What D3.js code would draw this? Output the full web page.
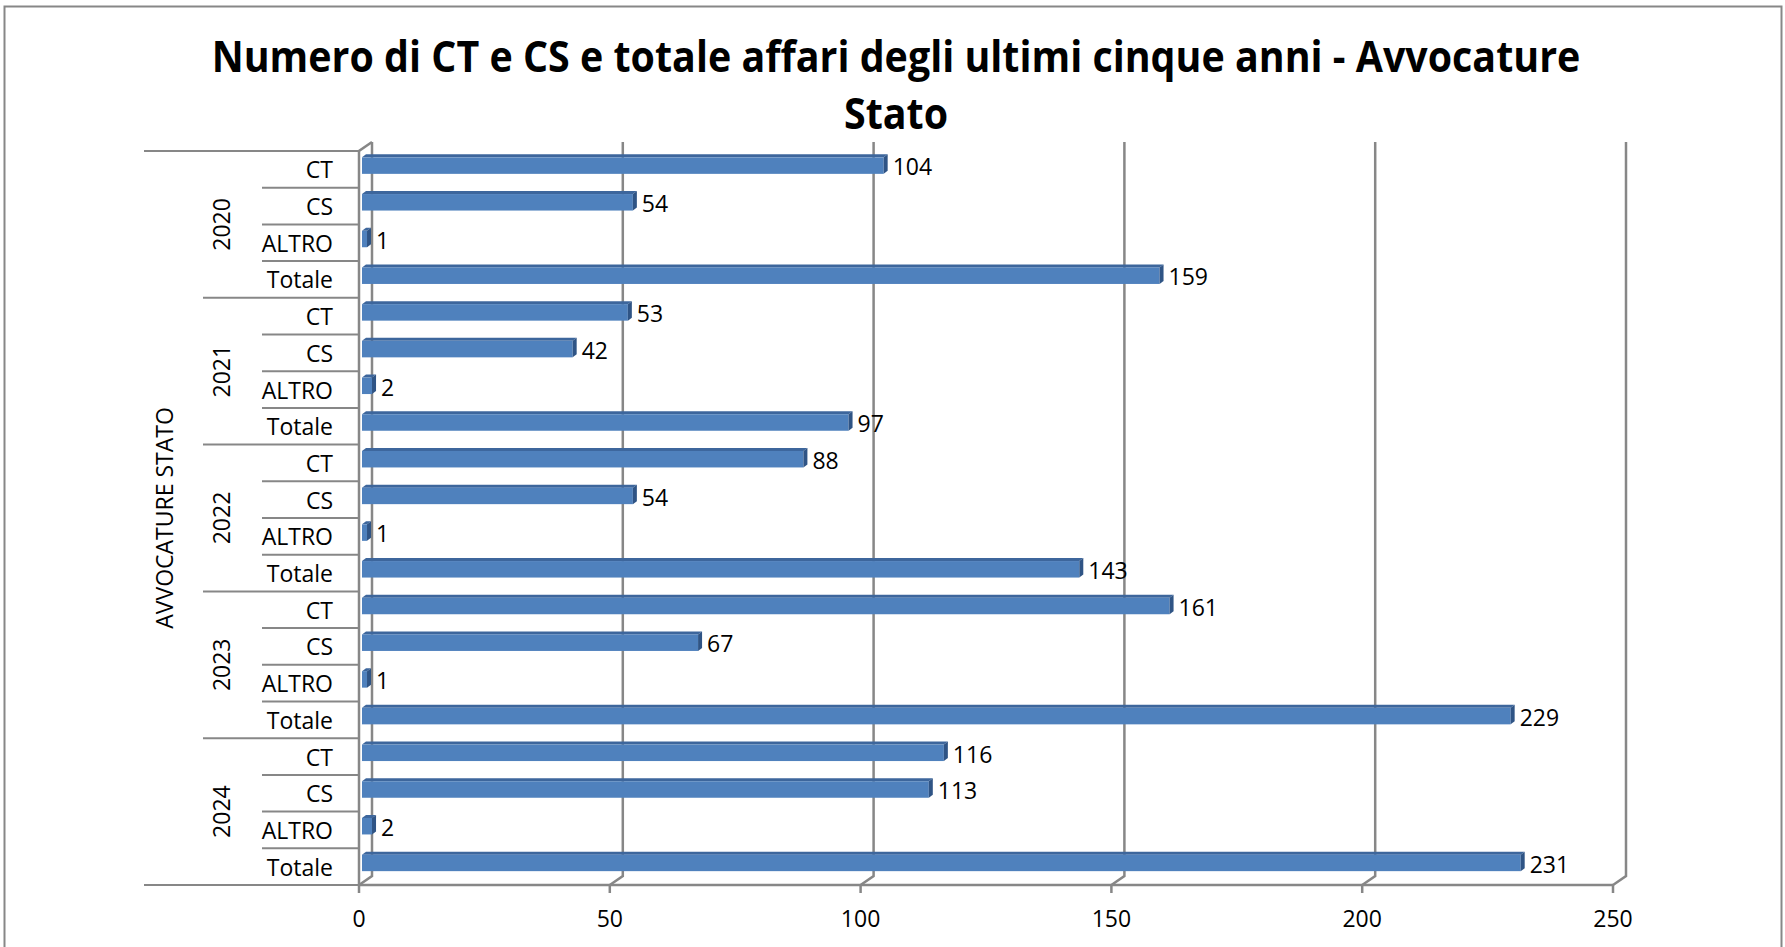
<!DOCTYPE html>
<html>
<head>
<meta charset="utf-8">
<script src="https://cdn.jsdelivr.net/npm/d3@7"></script>
<style>
  body { margin: 0; background: #fff; }
  text { font-family: "Open Sans", sans-serif; fill: #000; }
</style>
</head>
<body>
<div id="chart"></div>
<script>
var width = 1785,
    height = 947;

// data
var years = ["2020", "2021", "2022", "2023", "2024"];
var types = ["CT", "CS", "ALTRO", "Totale"];
var v2020 = [104, 54, 1, 159];
var v2021 = [53, 42, 2, 97];
var v2022 = [88, 54, 1, 143];
var v2023 = [161, 67, 1, 229];
var v2024 = [116, 113, 2, 231];
var xTicks = [0, 50, 100, 150, 200, 250];
var titleLines = ["Numero di CT e CS e totale affari degli ultimi cinque anni - Avvocature", "Stato"];
var axisTitle = "AVVOCATURE STATO";

var allValues = [v2020, v2021, v2022, v2023, v2024];
var rows = [];
years.forEach(function(y, i) {
    types.forEach(function(t, j) {
        rows.push({ year: y, type: t, value: allValues[i][j], key: y + "-" + t });
    });
});

var grey = "#878787";
var depthX = 13, depthY = -9;   // 3d offset of back wall

var svg = d3.select("#chart").append("svg")
    .attr("width", width)
    .attr("height", height)
    .style("display", "block");

// chart border
svg.append("rect")
    .attr("x", 4.5).attr("y", 6.5)
    .attr("width", 1777).attr("height", 980)
    .attr("fill", "none")
    .attr("stroke", grey)
    .attr("stroke-width", 2);

var x = d3.scaleLinear().domain([0, 250]).range([359, 1613]);
var y = d3.scaleBand().domain(rows.map(function(d) { return d.key; })).range([151, 885]);

var yTop = y.range()[0], yBottom = y.range()[1];

// title (two lines), stretched to the width of the original
var title = svg.append("g");
var k = 1;
titleLines.forEach(function(line, i) {
    var t = title.append("text")
        .attr("x", 0)
        .attr("y", 72 + i * 57)
        .attr("text-anchor", "middle")
        .style("font-weight", "bold")
        .style("font-size", "43px")
        .text(line);
    if (i == 0) k = 1369 / t.node().getComputedTextLength();
});
title.attr("transform", "translate(896,0) scale(" + k + ",1)");

// back wall + gridlines
var grid = svg.append("g")
    .attr("fill", "none")
    .attr("stroke", grey)
    .attr("stroke-width", 2.5);

xTicks.forEach(function(t) {
    var fx = x(t), bx = x(t) + depthX;
    var pts = [[bx, yTop + depthY], [bx, yBottom + depthY], [fx, yBottom]];
    grid.append("path").attr("d", d3.line()(pts));
    // tick below floor
    grid.append("line")
        .attr("x1", fx).attr("x2", fx)
        .attr("y1", yBottom).attr("y2", yBottom + 8);
});

// floor front edge
grid.append("line")
    .attr("x1", x(0)).attr("x2", x(250))
    .attr("y1", yBottom).attr("y2", yBottom);
// front vertical axis + top diagonal
grid.append("path")
    .attr("d", d3.line()([[x(0), yBottom], [x(0), yTop], [x(0) + depthX, yTop + depthY]]));

// category separators on left
var sep = svg.append("g")
    .attr("stroke", grey)
    .attr("stroke-width", 2);

rows.forEach(function(d, i) {
    var yy = y(d.key);
    var x0 = 262;
    if (i % 4 == 0) x0 = 203;
    if (i == 0) x0 = 144;
    sep.append("line")
        .attr("x1", x0).attr("x2", x(0) - 1)
        .attr("y1", yy).attr("y2", yy);
});
sep.append("line")
    .attr("x1", 144).attr("x2", x(0) - 1)
    .attr("y1", yBottom).attr("y2", yBottom);

// category labels
svg.selectAll(".cat")
    .data(rows)
    .enter().append("text")
    .attr("class", "cat")
    .attr("x", 333)
    .attr("y", function(d) { return y(d.key) + y.bandwidth() / 2 + 9; })
    .attr("text-anchor", "end")
    .style("font-size", "23px")
    .text(function(d) { return d.type; });

// year labels (rotated)
svg.selectAll(".year")
    .data(years)
    .enter().append("text")
    .attr("class", "year")
    .attr("transform", function(d) {
        var cy = y(d + "-CT") + y.bandwidth() * 2;
        return "translate(230," + cy + ") rotate(-90)";
    })
    .attr("text-anchor", "middle")
    .style("font-size", "23px")
    .text(function(d) { return d; });

// axis title
svg.append("text")
    .attr("transform", "translate(173," + ((yTop + yBottom) / 2) + ") rotate(-90)")
    .attr("text-anchor", "middle")
    .style("font-size", "23px")
    .text(axisTitle);

// bars: front, top, side faces
var bx0 = 3;
var bars = svg.selectAll(".bar")
    .data(rows)
    .enter().append("g")
    .attr("class", "bar");

function face(d) {
    var c = y(d.key) + y.bandwidth() / 2;
    return { x0: x(0) + bx0, x1: x(d.value) + bx0, y0: c - 12, y1: c + 4.5 };
}

bars.append("path")
    .attr("fill", "#3d669c")
    .attr("d", function(d) {
        var f = face(d);
        return d3.line()([[f.x0, f.y0], [f.x1, f.y0], [f.x1 + 4, f.y0 - 3], [f.x0 + 4, f.y0 - 3]]) + "Z";
    });
bars.append("rect")
    .attr("fill", "#4f81bd")
    .attr("x", function(d) { return face(d).x0; })
    .attr("y", function(d) { return face(d).y0; })
    .attr("width", function(d) { var f = face(d); return f.x1 - f.x0; })
    .attr("height", function(d) { var f = face(d); return f.y1 - f.y0; });
bars.append("path")
    .attr("fill", "#2f5485")
    .attr("d", function(d) {
        var f = face(d);
        return d3.line()([[f.x1, f.y0], [f.x1 + 4, f.y0 - 3], [f.x1 + 4, f.y1 - 3], [f.x1, f.y1]]) + "Z";
    });

// value labels
svg.selectAll(".val")
    .data(rows)
    .enter().append("text")
    .attr("class", "val")
    .attr("x", function(d) { return x(d.value) + bx0 + 9; })
    .attr("y", function(d) { return y(d.key) + y.bandwidth() / 2 + 6; })
    .style("font-size", "23px")
    .text(function(d) { return d.value; });

// x tick labels
svg.selectAll(".tick-label")
    .data(xTicks)
    .enter().append("text")
    .attr("class", "tick-label")
    .attr("x", function(d) { return x(d); })
    .attr("y", 927)
    .attr("text-anchor", "middle")
    .style("font-size", "23px")
    .text(function(d) { return d; });
</script>
</body>
</html>
